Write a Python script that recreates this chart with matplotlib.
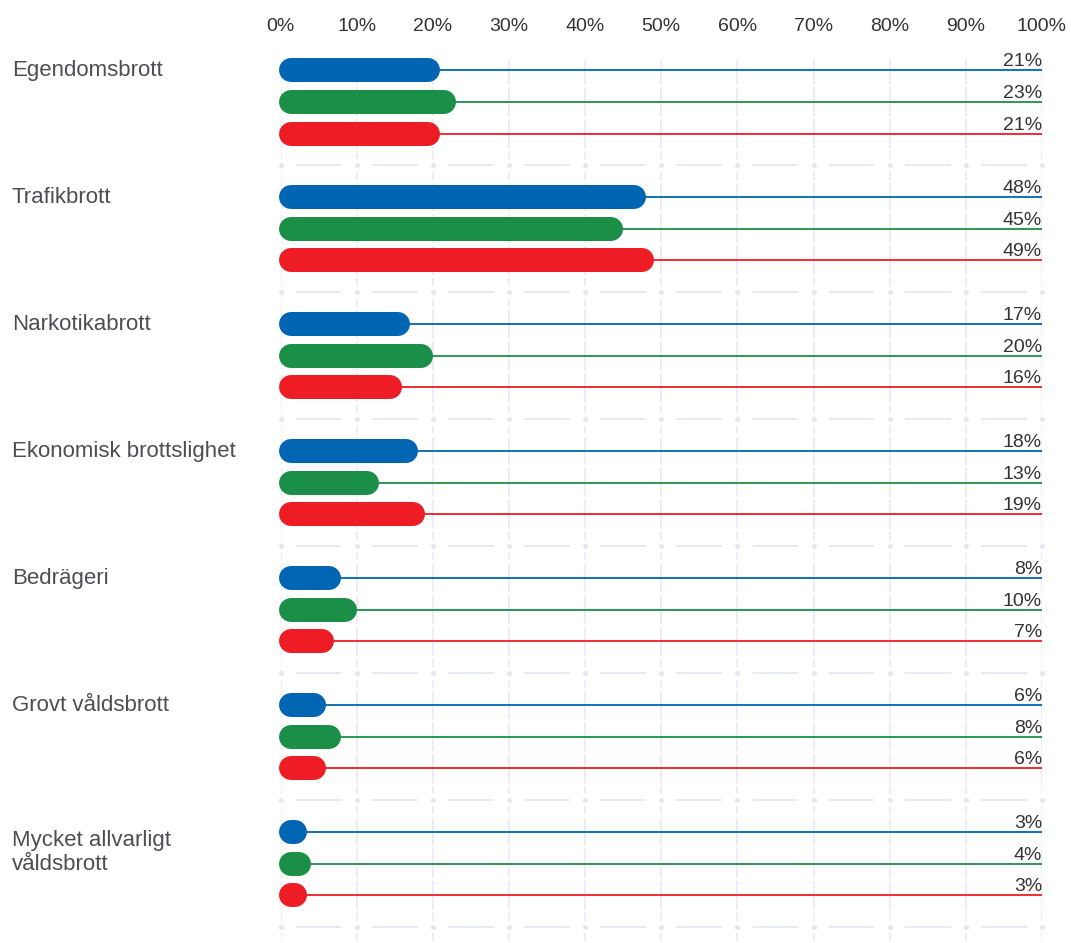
import matplotlib.pyplot as plt
from matplotlib.transforms import blended_transform_factory

# share of cases per crime type, three series each
categories = ["Egendomsbrott", "Trafikbrott", "Narkotikabrott",
              "Ekonomisk brottslighet", "Bedrägeri", "Grovt våldsbrott",
              "Mycket allvarligt\nvåldsbrott"]
blue_vals = [21, 48, 17, 18, 8, 6, 3]
green_vals = [23, 45, 20, 13, 10, 8, 4]
red_vals = [21, 49, 16, 19, 7, 6, 3]
tick_vals = [0, 10, 20, 30, 40, 50, 60, 70, 80, 90, 100]
tick_labels = [f"{t}%" for t in tick_vals]

colors = ["#0066b3", "#1b8f48", "#ee1c25"]
grid_col = "#e5e7f2"
text_col = "#333333"
label_col = "#4b4f54"
font = "Liberation Sans"

W, H = 1071, 943
fig = plt.figure(figsize=(W / 100, H / 100), dpi=100)
x0_px, x1_px = 280.5, 1042
top_px = 47.8
ax = fig.add_axes([x0_px / W, 0, (x1_px - x0_px) / W, (H - top_px) / H])
ax.set_xlim(0, 100)
ax.set_ylim(27.5, -0.7)
for s in ax.spines.values():
    s.set_visible(False)
ax.set_yticks([])
ax.xaxis.tick_top()
ax.set_xticks(tick_vals)
ax.set_xticklabels(tick_labels, fontsize=14, color=text_col, family=font)
ax.tick_params(axis="x", length=0, pad=9)
for lbl in ax.get_xticklabels()[:1]:
    lbl.set_x(0.8)

px_per_x = (x1_px - x0_px) / 100
slot_px = (H - top_px) / 28.2
n_groups = len(categories)
n_slots = n_groups * 4

# vertical grid, broken into one segment per slot
gap = 0.05
for t in tick_vals:
    ax.vlines(t, -0.3, -0.5 + 1 - gap, color=grid_col, lw=1.1, zorder=0)
    for k in range(1, n_slots):
        if k % 4 == 3:
            ax.vlines(t, k - 0.5 + gap, k - 0.2, color=grid_col, lw=1.1, zorder=0)
            ax.vlines(t, k + 0.2, k + 0.5 - gap, color=grid_col, lw=1.1, zorder=0)
            ax.plot(t, k, "o", ms=2.6, color=grid_col, zorder=0, clip_on=False)
        else:
            ax.vlines(t, k - 0.5 + gap, k + 0.5 - gap, color=grid_col, lw=1.1, zorder=0)

# horizontal separators between groups
for g in range(n_groups):
    ys = g * 4 + 3
    for a, b in zip(tick_vals[:-1], tick_vals[1:]):
        ax.hlines(ys, a + 2, b - 2, color=grid_col, lw=1.3, zorder=0)

r = 12 / px_per_x          # cap radius in x units
bar_lw = 24 * 72 / 100     # bar thickness in points
start = -2 / px_per_x

for g in range(n_groups):
    for i, vals in enumerate([blue_vals, green_vals, red_vals]):
        y = g * 4 + i
        v = vals[g]
        c = colors[i]
        ax.plot([0, 100], [y, y], color=c, lw=1.3, solid_capstyle="butt",
                zorder=2, clip_on=False)
        a = start + r
        b = max(v - r, a + 0.6)
        ax.plot([a, b], [y, y], color=c, lw=bar_lw, solid_capstyle="round",
                zorder=3, clip_on=False)
        ax.text(100, y - 4 / slot_px, f"{v}%", ha="right", va="baseline",
                fontsize=14, color=text_col, family=font, zorder=4)

# category names at the left margin
trans = blended_transform_factory(fig.transFigure, ax.transData)
for g, name in enumerate(categories):
    nlines = name.count("\n") + 1
    off = (6 + 32 * (nlines - 1)) / slot_px
    ax.text(12 / W, g * 4 + off, name, transform=trans, ha="left",
            va="baseline", fontsize=16, color=label_col, family=font,
            linespacing=1.15)

fig.savefig("out.png", dpi=100)
